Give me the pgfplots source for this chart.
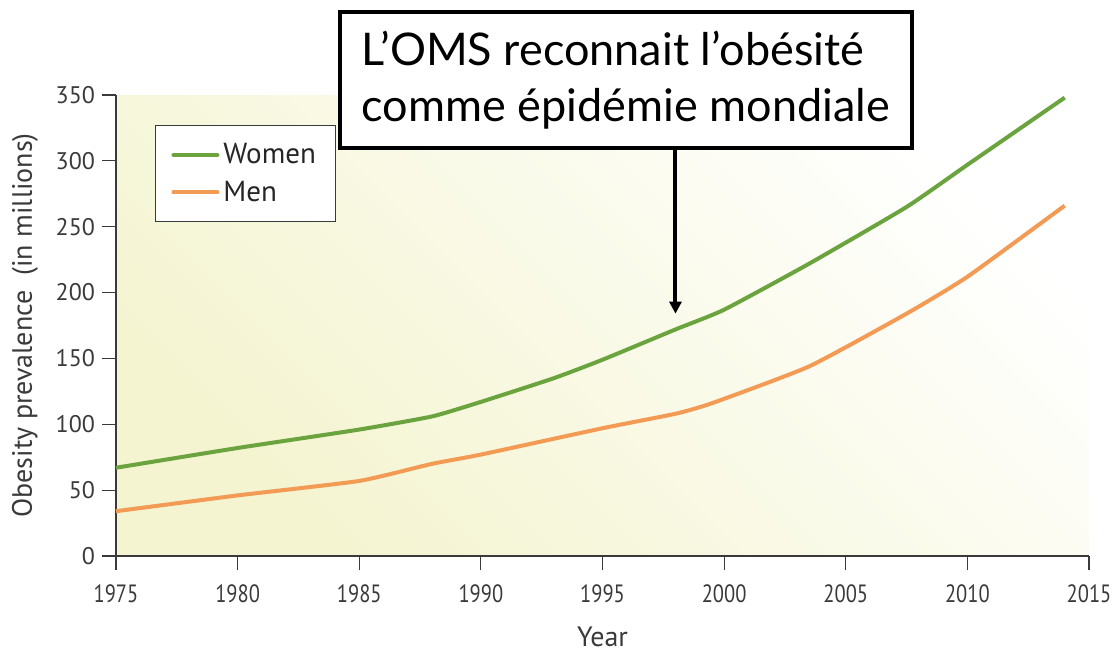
\documentclass[border=0pt]{standalone}
\usepackage{fontspec}
\setmainfont{PT Sans}
\newfontfamily\annot{Lato}
\usepackage{graphicx}
\usepackage{pgfplots}
\pgfplotsset{compat=1.18}
\usetikzlibrary{arrows.meta}
\definecolor{wgreen}{HTML}{6BA43F}
\definecolor{morange}{HTML}{F39B55}
\definecolor{axgray}{HTML}{3A3A3A}
\definecolor{bgyel}{HTML}{F4F4D0}
\begin{document}
\begin{tikzpicture}
\begin{axis}[
  scale only axis,
  width=486.5bp, height=230.5bp,
  xmin=1975, xmax=2015, ymin=0, ymax=350,
  xtick={1975,1980,...,2015},
  ytick={0,50,...,350},
  axis x line*=bottom, axis y line*=left,
  axis line style={draw=axgray, line width=0.6pt},
  tick style={draw=axgray, line width=0.6pt},
  tick align=outside,
  major tick length=7bp,
  /pgf/number format/assume math mode=true,
  /pgf/number format/1000 sep={},
  ticklabel style={font=\fontsize{12bp}{14bp}\selectfont, text=axgray},
  xticklabel={\scalebox{0.82}[1]{\pgfmathprintnumber{\tick}}},
  xticklabel style={yshift=-4bp, font=\fontsize{12.5bp}{14bp}\selectfont},
  xlabel={Year}, ylabel={Obesity prevalence~~(in millions)},
  label style={font=\fontsize{14bp}{16bp}\selectfont, text=axgray},
  xlabel style={yshift=-5bp},
  ylabel style={yshift=2bp},
  axis background/.style={shade, bottom color=bgyel, middle color=bgyel!18!white, top color=white, shading angle=-45},
  clip=false,
  legend style={at={(rel axis cs:0.04,0.935)}, anchor=north west,
    draw=axgray, line width=0.5pt, font=\fontsize{14.5bp}{16bp}\selectfont,
    inner xsep=8bp, inner ysep=7bp, row sep=3bp, text=black!85},
  legend cell align=left,
  legend image code/.code={\draw[#1, line width=2bp, line cap=round] (0bp,0bp) -- (22bp,0bp);},
]
\addplot[wgreen, line width=2bp, smooth, tension=0.3] coordinates {
(1975,67) (1980,82) (1985,96) (1988,106) (1990,117) (1993,135) (1995,149) (1998,172) (2000,187) (2003.5,222) (2007.5,265) (2010,297) (2014,348)};
\addlegendentry{Women}
\addplot[morange, line width=2bp, smooth, tension=0.3] coordinates {
(1975,34) (1980,46) (1985,57) (1988,70) (1990,77) (1995,97) (1998,108) (1999.5,116) (2003.5,144) (2007.5,184) (2010,212) (2014,266)};
\addlegendentry{Men}
\node[draw=black, line width=2bp, fill=white, minimum width=286bp, minimum height=68bp,
  align=left, inner xsep=8bp, font=\annot\fontsize{22.5bp}{28bp}\selectfont]
  (box) at (axis cs:1995.96,361.4) {L’OMS reconnait l’obésité\\comme épidémie mondiale};
\draw[-{Triangle[width=6bp,length=6bp]}, line width=2bp] (box.south -| {axis cs:1998,0}) -- (axis cs:1998,184);
\coordinate (ll) at (rel axis cs:0,0);
\end{axis}
\pgfresetboundingbox
\path ([shift={(-58bp,-48.5bp)}]ll) rectangle ([shift={(498bp,278bp)}]ll);
\end{tikzpicture}
\end{document}
